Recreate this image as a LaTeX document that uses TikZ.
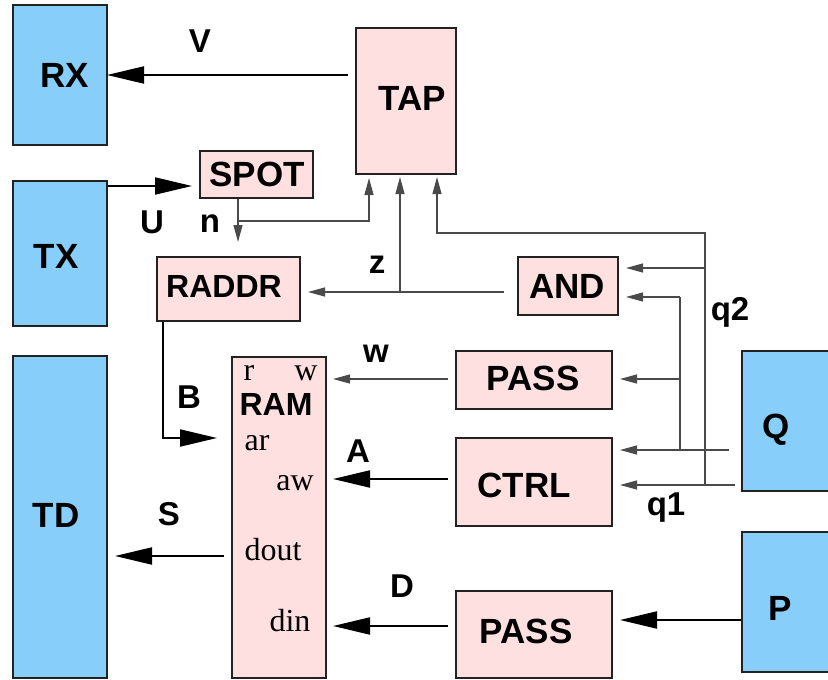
\documentclass[tikz,border=0pt]{standalone}
\usepackage{fontspec}
\setmainfont{Liberation Serif}
\setsansfont{Liberation Sans}
\usetikzlibrary{arrows.meta,calc}
\definecolor{qblue}{HTML}{87CEFA}
\definecolor{qpink}{HTML}{FFE0E0}
\definecolor{qedge}{HTML}{222222}
\definecolor{qline}{HTML}{4A4A4A}
\begin{document}
\begin{tikzpicture}[x=1pt,y=-1pt,
  box/.style={draw=qedge, line width=2pt, inner sep=0pt, rectangle},
  bluebox/.style={box, fill=qblue},
  pinkbox/.style={box, fill=qpink},
  lbl/.style={font=\sffamily\bfseries\fontsize{35}{35}\selectfont, anchor=base, inner sep=0pt},
  lbls/.style={font=\sffamily\bfseries\fontsize{32}{32}\selectfont, anchor=base, inner sep=0pt},
  elbl/.style={font=\sffamily\bfseries\fontsize{33}{33}\selectfont, anchor=base, inner sep=0pt},
  port/.style={font=\rmfamily\fontsize{32}{32}\selectfont, anchor=base, inner sep=0pt},
  bigarr/.style={draw=black, line width=2pt, -{Triangle[length=37pt,width=17pt]}},
  smallarr/.style={draw=qline, line width=1.2pt, -{Triangle[length=17pt,width=9pt]}},
  thinline/.style={draw=qline, line width=1.2pt},
]
\useasboundingbox (0,0) rectangle (828,680);
% boxes
\node[bluebox, minimum width=94pt, minimum height=140pt] (RX) at (60,75) {};
\node[bluebox, minimum width=94pt, minimum height=145pt] (TX) at (60,253.5) {};
\node[bluebox, minimum width=94pt, minimum height=322pt] (TD) at (60,517) {};
\node[bluebox, minimum width=94pt, minimum height=140pt] (Q) at (789,421) {};
\node[bluebox, minimum width=94pt, minimum height=140pt] (P) at (789,602) {};
\node[pinkbox, minimum width=100pt, minimum height=146pt] (TAP) at (406,101) {};
\node[pinkbox, minimum width=113pt, minimum height=47pt] (SPOT) at (256.5,174.5) {};
\node[pinkbox, minimum width=143pt, minimum height=64pt] (RADDR) at (228.5,289) {};
\node[pinkbox, minimum width=100pt, minimum height=58pt] (AND) at (568,286) {};
\node[pinkbox, minimum width=156pt, minimum height=58pt] (PASS1) at (534,380) {};
\node[pinkbox, minimum width=156pt, minimum height=88pt] (CTRL) at (534,482) {};
\node[pinkbox, minimum width=156pt, minimum height=87pt] (PASS2) at (534,634.5) {};
\node[pinkbox, minimum width=94pt, minimum height=321pt] (RAM) at (279,517.5) {};
% box texts
\node[lbl] (tRX) at (65,87) {RX};
\node[lbl] (tTX) at (56,268) {TX};
\node[lbl] (tTD) at (56,527) {TD};
\node[lbl] (tQ) at (776,438) {Q};
\node[lbl] (tP) at (780,620) {P};
\node[lbl] (tTAP) at (412,110) {TAP};
\node[lbl] (tSPOT) at (257,186) {SPOT};
\node[lbls] (tRADDR) at (224,297) {RADDR};
\node[lbl] (tAND) at (567,298) {AND};
\node[lbl] (tPASS1) at (533,390) {PASS};
\node[lbl] (tCTRL) at (524,497) {CTRL};
\node[lbl] (tPASS2) at (526,643) {PASS};
\node[lbls] (tRAM) at (276,415) {RAM};
\node[port] (pr) at (249,380) {r};
\node[port] (pw) at (306,380) {w};
\node[port] (par) at (257,450) {ar};
\node[port] (paw) at (295,490) {aw};
\node[port] (pdout) at (273,560) {dout};
\node[port] (pdin) at (290,631) {din};
% edge labels
\node[elbl] (lV) at (200,52) {V};
\node[elbl] (lU) at (152,233) {U};
\node[elbl] (ln) at (210,232) {n};
\node[elbl] (lz) at (377,273) {z};
\node[elbl] (lw) at (376,362) {w};
\node[elbl] (lq2) at (730,320) {q2};
\node[elbl] (lq1) at (666,515) {q1};
\node[elbl] (lB) at (189,408) {B};
\node[elbl] (lS) at (169,525) {S};
\node[elbl] (lA) at (358,462) {A};
\node[elbl] (lD) at (402,597) {D};
% level coordinates
\coordinate (uY) at (0,186);
\coordinate (nX) at (238,0);
\coordinate (nB) at (238,221);
\coordinate (t1) at (369,0);
\coordinate (zY) at (0,292);
\coordinate (zX) at (400,0);
\coordinate (q1Y) at (0,485);
\coordinate (q2X) at (705,0);
\coordinate (tapY3) at (0,233);
\coordinate (t3) at (437,0);
\coordinate (a1Y) at (0,268);
\coordinate (qaY) at (0,450);
\coordinate (qaX) at (680,0);
\coordinate (a2Y) at (0,297);
\coordinate (wY) at (0,379);
\coordinate (aY) at (0,479);
\coordinate (dY) at (0,626);
\coordinate (pY) at (0,620);
\coordinate (sY) at (0,556);
\coordinate (bX) at (163,0);
\coordinate (bY) at (0,438);
% connectors
\draw[bigarr, shorten <=7pt, shorten >=-1pt] (TAP.west |- RX.east) -- (RX.east);
\draw[bigarr, shorten >=7pt] (TX.east |- uY) -- (SPOT.west |- uY);
\draw[smallarr, shorten >=14pt] (SPOT.south -| nX) -- (RADDR.north -| nX);
\draw[smallarr, shorten >=3pt] (nB) -| (TAP.south -| t1);
\draw[smallarr, shorten <=13pt, shorten >=7pt] (AND.west |- zY) -- (RADDR.east |- zY);
\draw[smallarr, shorten >=2pt] (zX |- zY) -- (TAP.south -| zX);
\draw[smallarr, shorten <=6pt, shorten >=7pt] (Q.west |- q1Y) -- (CTRL.east |- q1Y);
\draw[smallarr, shorten >=2pt] (q2X |- q1Y) -- (q2X |- tapY3) -| (TAP.south -| t3);
\draw[smallarr, shorten >=7pt] (q2X |- a1Y) -- (AND.east |- a1Y);
\draw[smallarr, shorten <=12pt, shorten >=7pt] (Q.west |- qaY) -- (CTRL.east |- qaY);
\draw[thinline] (qaX |- qaY) -- (qaX |- a2Y);
\draw[smallarr, shorten >=7pt] (qaX |- a2Y) -- (AND.east |- a2Y);
\draw[smallarr, shorten >=7pt] (qaX |- wY) -- (PASS1.east |- wY);
\draw[smallarr, shorten <=7pt, shorten >=6pt] (PASS1.west |- wY) -- (RAM.east |- wY);
\draw[bigarr, shorten <=7pt, shorten >=6pt] (CTRL.west |- aY) -- (RAM.east |- aY);
\draw[bigarr, shorten <=7pt, shorten >=6pt] (PASS2.west |- dY) -- (RAM.east |- dY);
\draw[bigarr, shorten >=7pt] (P.west |- pY) -- (PASS2.east |- pY);
\draw[bigarr, shorten <=7pt, shorten >=7pt] (RAM.west |- sY) -- (TD.east |- sY);
\draw[bigarr, shorten >=14pt] (RADDR.south -| bX) |- (RAM.west |- bY);
\end{tikzpicture}
\end{document}
